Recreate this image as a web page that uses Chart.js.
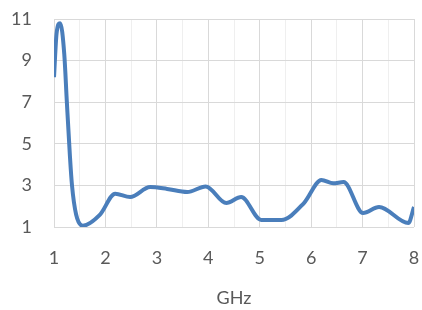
<!DOCTYPE html>
<html>
<head>
<meta charset="utf-8">
<script src="https://cdn.jsdelivr.net/npm/chart.js@4/dist/chart.umd.min.js"></script>
<style>
  html, body { margin: 0; padding: 0; background: #fff; }
  #wrap { width: 422px; height: 310px; }
</style>
</head>
<body>
<div id="wrap"><canvas id="line_chart"></canvas></div>
<script>
// frequency in GHz
var freqs = [1, 1.05, 1.12, 1.2, 1.25, 1.31, 1.35, 1.43, 1.56, 1.89, 2.19, 2.48, 2.87, 3.2, 3.59, 3.95,
  4.35, 4.64, 5.03, 5.42, 5.86, 6.2, 6.43, 6.63, 7.01, 7.32, 7.89, 8];
var values = [8.2, 10.3, 10.8, 9.3, 7, 4.4, 3, 1.6, 1.06, 1.58, 2.6, 2.44, 2.92, 2.83, 2.68, 2.95,
  2.15, 2.44, 1.34, 1.34, 2.15, 3.26, 3.1, 3.16, 1.67, 1.96, 1.19, 1.96];
var xTicks = [1, 2, 3, 4, 5, 6, 7, 8];
var yTicks = [1, 3, 5, 7, 9, 11];
var xTitle = 'GHz';

var points = freqs.map(function (f, i) { return { x: f, y: values[i] }; });
var tickFont = { family: 'Lato, "Open Sans", sans-serif', size: 18 };

new Chart(document.getElementById('line_chart').getContext('2d'), {
  type: 'line',
  data: {
    datasets: [{
      data: points,
      borderColor: '#4a7ebb',
      borderWidth: 4,
      pointRadius: 0,
      cubicInterpolationMode: 'monotone',
      fill: false
    }]
  },
  options: {
    responsive: true,
    maintainAspectRatio: false,
    animation: false,
    layout: { padding: { top: 19, right: 8, left: 0, bottom: 0 } },
    plugins: { legend: { display: false }, tooltip: { enabled: false } },
    scales: {
      x: {
        type: 'linear',
        min: xTicks[0],
        max: xTicks[xTicks.length - 1],
        border: { display: false },
        grid: {
          drawTicks: false,
          color: function (ctx) {
            return Number.isInteger(ctx.tick.value) ? '#d9d9d9' : '#efefef';
          },
          lineWidth: 1
        },
        ticks: {
          stepSize: 0.5,
          padding: 20,
          color: '#595959',
          font: tickFont,
          maxRotation: 0,
          autoSkip: false,
          callback: function (v) { return xTicks.indexOf(v) >= 0 ? String(v) : ''; }
        },
        title: {
          display: true,
          text: xTitle,
          color: '#595959',
          font: tickFont,
          padding: { top: 0, bottom: 1 }
        },
        afterFit: function (scale) {
          scale.height = 83;
          scale.paddingLeft = 0;
          scale.paddingRight = 0;
        }
      },
      y: {
        min: yTicks[0],
        max: yTicks[yTicks.length - 1],
        border: { display: false },
        grid: { drawTicks: false, color: '#d9d9d9' },
        afterBuildTicks: function (scale) {
          scale.ticks = yTicks.map(function (v) { return { value: v }; });
        },
        ticks: {
          padding: 22,
          color: '#595959',
          font: tickFont
        },
        afterFit: function (scale) {
          scale.width = 54;
          scale.paddingTop = 0;
          scale.paddingBottom = 0;
        }
      }
    }
  }
});
</script>
</body>
</html>
